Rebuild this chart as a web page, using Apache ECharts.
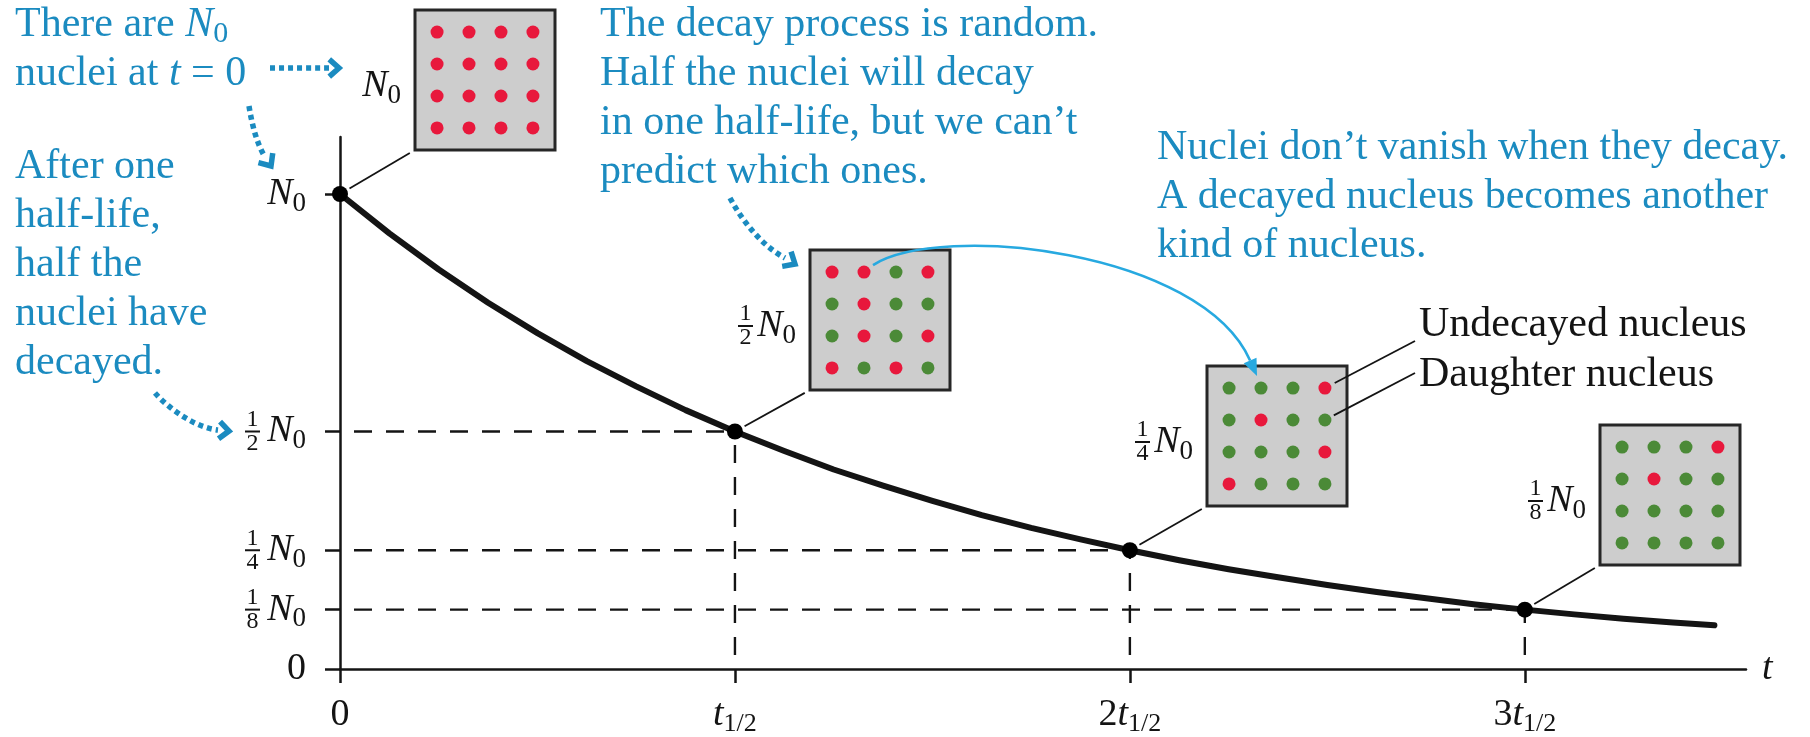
<!DOCTYPE html>
<html>
<head>
<meta charset="utf-8">
<title>Radioactive decay</title>
<script src="https://cdn.jsdelivr.net/npm/echarts@6/dist/echarts.min.js"></script>
<style>
html, body { margin: 0; padding: 0; background: #fff; }
#decay { width: 1810px; height: 737px; }
</style>
</head>
<body>
<div id="decay"></div>
<script>
// time in half-lives, N as a fraction of N0
var curveT = [0, 0.125, 0.25, 0.375, 0.5, 0.625, 0.75, 0.875, 1, 1.125, 1.25, 1.375, 1.5, 1.625,
  1.75, 1.875, 2, 2.125, 2.25, 2.375, 2.5, 2.625, 2.75, 2.875, 3, 3.125, 3.25, 3.375, 3.48];
var curveN = [1, 0.917, 0.841, 0.771, 0.707, 0.648, 0.595, 0.545, 0.5, 0.459, 0.42, 0.386, 0.354, 0.324,
  0.297, 0.273, 0.25, 0.229, 0.21, 0.193, 0.177, 0.162, 0.149, 0.136, 0.125, 0.115, 0.106, 0.098, 0.092];

// the marked points, one per half-life
var markT = [0, 1, 2, 3];
var markN = [1, 0.5, 0.25, 0.125];

// tick labels
var xTicks = [0, 1, 2, 3];
var xTickCoef = ['0', '', '2', '3'];
var yTicks = [0, 0.125, 0.25, 0.5, 1];
var yTickDen = ['', '8', '4', '2', ''];

// nucleus samples, rows top to bottom: 1 = undecayed, 0 = daughter
var boxN0 = [[1, 1, 1, 1], [1, 1, 1, 1], [1, 1, 1, 1], [1, 1, 1, 1]];
var boxHalf = [[1, 1, 0, 1], [0, 1, 0, 0], [0, 1, 0, 1], [1, 0, 1, 0]];
var boxQuarter = [[0, 0, 0, 1], [0, 1, 0, 0], [0, 0, 0, 1], [1, 0, 0, 0]];
var boxEighth = [[0, 0, 0, 1], [0, 1, 0, 0], [0, 0, 0, 0], [0, 0, 0, 0]];
var boxDen = ['', '2', '4', '8'];

var SERIF = '"Liberation Serif", "DejaVu Serif", serif';
var INK = '#141414';
var BLUE = '#1b8bc0';
var ARC = '#27a9e0';
var RED = '#e8183c';
var GREEN = '#4b8a37';

var boxStates = [boxN0, boxHalf, boxQuarter, boxEighth];
var boxPos = [[415, 10], [810, 250], [1207, 366], [1600, 425]];
var BOX = 140;

function boxData(state) {
  var out = [];
  state.forEach(function (row, r) {
    row.forEach(function (s, c) { out.push([c, r, s]); });
  });
  return out;
}

var axisInk = { color: INK, width: 2.5 };
var nRich = {
  i: { fontFamily: SERIF, fontStyle: 'italic', fontSize: 38, color: INK, lineHeight: 46 },
  s: { fontFamily: SERIF, fontSize: 27, color: INK, lineHeight: 18, verticalAlign: 'bottom' },
  r: { fontFamily: SERIF, fontSize: 38, color: INK, lineHeight: 46 }
};

var grids = [{ left: 340, right: 64, top: 137, bottom: 68, outerBoundsMode: 'none' }];
var xAxes = [{
  gridIndex: 0, type: 'value', min: 0, max: 3.56,
  name: 't', nameLocation: 'end', nameGap: 16,
  nameTextStyle: { fontFamily: SERIF, fontStyle: 'italic', fontSize: 38, color: INK },
  axisLine: { onZero: false, lineStyle: axisInk },
  axisTick: { customValues: xTicks, length: 14, lineStyle: axisInk },
  splitLine: { show: false },
  axisLabel: {
    customValues: xTicks, margin: 24,
    formatter: function (v) {
      if (v === 0) return '{r|0}';
      var c = xTickCoef[xTicks.indexOf(v)];
      return (c ? '{r|' + c + '}' : '') + '{i|t}{s|1/2}';
    },
    rich: {
      r: { fontFamily: SERIF, fontSize: 38, color: INK, lineHeight: 44 },
      i: { fontFamily: SERIF, fontStyle: 'italic', fontSize: 38, color: INK, lineHeight: 44 },
      s: { fontFamily: SERIF, fontSize: 26, color: INK, lineHeight: 16, verticalAlign: 'bottom' }
    }
  }
}];
var yAxes = [{
  gridIndex: 0, type: 'value', min: 0, max: 1.12, position: 'left',
  axisLine: { onZero: false, lineStyle: axisInk },
  axisTick: { customValues: yTicks, length: 15, lineStyle: axisInk },
  splitLine: { show: false },
  axisLabel: {
    customValues: yTicks, margin: 34,
    formatter: function (v) { return v === 0 ? '{r|0}' : '{i|N}{s|0}'; },
    rich: nRich
  }
}, {
  // fractions in front of N0
  gridIndex: 0, type: 'value', min: 0, max: 1.12, position: 'left',
  axisLine: { show: false }, axisTick: { show: false }, splitLine: { show: false },
  axisLabel: {
    customValues: [0.125, 0.25, 0.5], margin: 80,
    formatter: function (v) {
      return '{a|1}\n{b| }\n{a|' + yTickDen[yTicks.indexOf(v)] + '}';
    },
    rich: {
      a: { fontFamily: SERIF, fontSize: 24, color: INK, lineHeight: 20, width: 15, align: 'center' },
      b: { width: 15, height: 2, lineHeight: 4, fontSize: 2, backgroundColor: INK }
    }
  }
}];

boxPos.forEach(function (p, i) {
  grids.push({
    left: p[0], top: p[1], width: BOX, height: BOX, show: true, outerBoundsMode: 'none',
    backgroundColor: '#cdcdcd', borderColor: '#262626', borderWidth: 3
  });
  xAxes.push({ gridIndex: i + 1, type: 'value', min: -0.69, max: 3.69, show: false });
  yAxes.push({ gridIndex: i + 1, type: 'value', min: -0.69, max: 3.69, inverse: true, show: false });
});

var series = [];
var dash = { color: INK, width: 2.4, type: [18, 14], dashOffset: 18 };
markT.forEach(function (t, i) {
  if (t === 0) return;
  var n = markN[i];
  series.push({ type: 'line', data: [[0, n], [t, n]], symbol: 'none', silent: true, lineStyle: dash, z: 1 });
  series.push({ type: 'line', data: [[t, 0], [t, n]], symbol: 'none', silent: true, lineStyle: dash, z: 1 });
});
series.push({
  type: 'line', smooth: false, symbol: 'none', silent: true, z: 3,
  data: curveT.map(function (t, i) { return [t, curveN[i]]; }),
  lineStyle: { color: INK, width: 6, join: 'round', cap: 'round' }
});
series.push({
  type: 'scatter', symbolSize: 16, z: 4, silent: true,
  data: markT.map(function (t, i) { return [t, markN[i]]; }),
  itemStyle: { color: '#000', opacity: 1 }
});
boxStates.forEach(function (st, i) {
  series.push({
    type: 'scatter', xAxisIndex: i + 1, yAxisIndex: i + 2, symbolSize: 13, silent: true,
    data: boxData(st),
    itemStyle: { opacity: 1, color: function (p) { return p.value[2] ? RED : GREEN; } }
  });
});

var chart = echarts.init(document.getElementById('decay'));
chart.setOption({
  animation: false,
  backgroundColor: '#fff',
  grid: grids,
  xAxis: xAxes,
  yAxis: yAxes,
  series: series
});

// ---- annotations ----
function px(t, n) { return chart.convertToPixel({ gridIndex: 0 }, [t, n]); }
function dot(b, c, r) { return chart.convertToPixel({ gridIndex: b + 1 }, [c, r]); }

function leader(a, b, cutA, cutB, w) {
  var dx = b[0] - a[0], dy = b[1] - a[1], len = Math.sqrt(dx * dx + dy * dy);
  var ux = dx / len, uy = dy / len;
  return {
    type: 'line', silent: true, z: 10,
    shape: { x1: a[0] + ux * cutA, y1: a[1] + uy * cutA, x2: b[0] - ux * cutB, y2: b[1] - uy * cutB },
    style: { stroke: INK, lineWidth: w || 1.8 }
  };
}

function chevron(tip, ang, len) {
  var a1 = ang + Math.PI * 0.77, a2 = ang - Math.PI * 0.77;
  return {
    type: 'polyline', silent: true, z: 10,
    shape: { points: [[tip[0] + len * Math.cos(a1), tip[1] + len * Math.sin(a1)], tip,
      [tip[0] + len * Math.cos(a2), tip[1] + len * Math.sin(a2)]] },
    style: { stroke: BLUE, lineWidth: 5.5, fill: null }
  };
}

function dotted(p0, c1, c2, p1, tip) {
  var ang = Math.atan2(tip[1] - p1[1], tip[0] - p1[0]);
  return [{
    type: 'bezierCurve', silent: true, z: 10,
    shape: { x1: p0[0], y1: p0[1], cpx1: c1[0], cpy1: c1[1], cpx2: c2[0], cpy2: c2[1], x2: p1[0], y2: p1[1] },
    style: { stroke: BLUE, lineWidth: 5.5, lineDash: [5, 4], fill: null }
  }, chevron(tip, ang, 13)];
}

var textRich = {
  r: { fontFamily: SERIF, fontSize: 42, fill: BLUE, lineHeight: 49 },
  i: { fontFamily: SERIF, fontStyle: 'italic', fontSize: 42, fill: BLUE, lineHeight: 49 },
  s: { fontFamily: SERIF, fontSize: 30, fill: BLUE, lineHeight: 20, verticalAlign: 'bottom' }
};
function note(x, y, text, color) {
  return {
    type: 'text', silent: true, z: 10, x: x, y: y,
    style: { text: text, rich: textRich, fontFamily: SERIF, fontSize: 42, fill: color || BLUE, lineHeight: 49, align: 'left', verticalAlign: 'top' }
  };
}

var gRich = {
  i: { fontFamily: SERIF, fontStyle: 'italic', fontSize: 38, fill: INK, lineHeight: 46 },
  s: { fontFamily: SERIF, fontSize: 27, fill: INK, lineHeight: 18, verticalAlign: 'bottom' },
  a: { fontFamily: SERIF, fontSize: 24, fill: INK, lineHeight: 20, width: 15, align: 'center' },
  b: { width: 15, height: 2, lineHeight: 4, fontSize: 2, backgroundColor: INK }
};

var g = [];

// box labels and leader lines to the curve
boxPos.forEach(function (p, i) {
  var right = p[0] - 14, cy = p[1] + BOX / 2 + 6;
  g.push({ type: 'text', silent: true, z: 10, x: right, y: cy,
    style: { text: '{i|N}{s|0}', rich: gRich, align: 'right', verticalAlign: 'middle' } });
  if (boxDen[i]) {
    g.push({ type: 'text', silent: true, z: 10, x: right - 43, y: cy,
      style: { text: '{a|1}\n{b| }\n{a|' + boxDen[i] + '}', rich: gRich, align: 'right', verticalAlign: 'middle' } });
  }
  g.push(leader([p[0], p[1] + BOX], px(markT[i], markN[i]), 6, 11));
});

// legend labels pointing at nuclei in the 1/4 N0 box
g.push({ type: 'text', silent: true, z: 10, x: 1419, y: 325,
  style: { text: 'Undecayed nucleus', fontFamily: SERIF, fontSize: 42, fill: INK, align: 'left', verticalAlign: 'middle' } });
g.push({ type: 'text', silent: true, z: 10, x: 1419, y: 375,
  style: { text: 'Daughter nucleus', fontFamily: SERIF, fontSize: 42, fill: INK, align: 'left', verticalAlign: 'middle' } });
g.push(leader([1415, 341], dot(2, 3, 0), 0, 11));
g.push(leader([1415, 373], dot(2, 3, 1), 0, 10));

// blue notes
g.push(note(15, 0, '{r|There are }{i|N}{s|0}\n{r|nuclei at }{i|t}{r| = 0}'));
g.push(note(15, 142, 'After one\nhalf-life,\nhalf the\nnuclei have\ndecayed.'));
g.push(note(600, 0, 'The decay process is random.\nHalf the nuclei will decay\nin one half-life, but we can\u2019t\npredict which ones.'));
g.push(note(1157, 123, 'Nuclei don\u2019t vanish when they decay.\nA decayed nucleus becomes another\nkind of nucleus.'));

// dotted arrows
g = g.concat(dotted([270, 68], [290, 68], [310, 68], [329, 68], [339, 68]));
g = g.concat(dotted([249, 106], [252, 125], [257, 144], [265, 157], [271, 166]));
g = g.concat(dotted([155, 393], [172, 412], [198, 428], [218, 430], [229, 431]));
g = g.concat(dotted([730, 198], [744, 224], [764, 247], [785, 258], [795, 264]));

// thin arc from a nucleus at 1/2 N0 to the same nucleus at 1/4 N0
(function () {
  var a = dot(1, 1, 0), b = dot(2, 1, 0);
  var s = [a[0] + 9, a[1] - 7], tip = [b[0] - 4, b[1] - 12];
  var c1 = [s[0] + 68, s[1] - 43], c2 = [tip[0] - 56, tip[1] - 126];
  var dx = tip[0] - c2[0], dy = tip[1] - c2[1], len = Math.sqrt(dx * dx + dy * dy);
  var ux = dx / len, uy = dy / len;
  var base = [tip[0] - ux * 17, tip[1] - uy * 17];
  g.push({ type: 'bezierCurve', silent: true, z: 10,
    shape: { x1: s[0], y1: s[1], cpx1: c1[0], cpy1: c1[1], cpx2: c2[0], cpy2: c2[1], x2: base[0], y2: base[1] },
    style: { stroke: ARC, lineWidth: 2.6, fill: null } });
  g.push({ type: 'polygon', silent: true, z: 10,
    shape: { points: [tip, [base[0] - uy * 7, base[1] + ux * 7], [base[0] + uy * 7, base[1] - ux * 7]] },
    style: { fill: ARC } });
})();

chart.setOption({ graphic: g });
</script>
</body>
</html>
